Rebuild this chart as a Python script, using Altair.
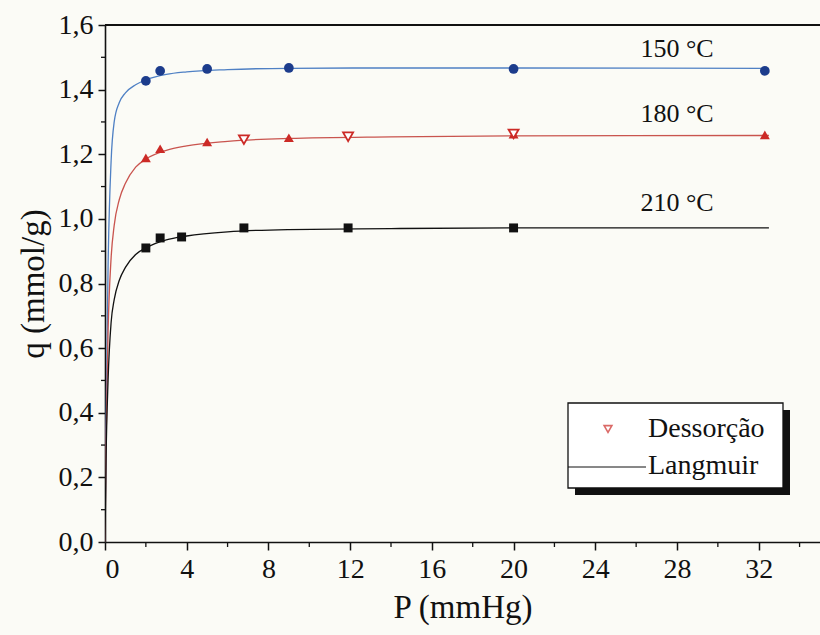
import altair as alt
import pandas as pd

# ---- data ----
# 150 °C adsorption (circles)
p150 = [2.0, 2.7, 5.0, 9.0, 20.0, 32.3]
q150 = [1.427, 1.458, 1.464, 1.467, 1.464, 1.458]
# 180 °C adsorption (filled triangles up)
p180 = [2.0, 2.7, 5.0, 9.0, 20.0, 32.3]
q180 = [1.189, 1.217, 1.238, 1.251, 1.262, 1.260]
# 180 °C desorption (open triangles down)
p180d = [6.8, 11.9, 20.0]
q180d = [1.245, 1.254, 1.263]
# 210 °C adsorption (squares)
p210 = [2.0, 2.7, 3.75, 6.8, 11.9, 20.0]
q210 = [0.910, 0.941, 0.944, 0.972, 0.972, 0.972]

# Langmuir curves
lp = [0.0, 0.05, 0.15, 0.3, 0.45, 0.7, 1.0, 1.5, 2.0, 3.0, 4.0, 6.0, 9.0, 14.0, 20.0, 32.5]
l150 = [0.0, 0.35, 0.85, 1.18, 1.30, 1.36, 1.39, 1.415, 1.43, 1.447, 1.455, 1.462, 1.466, 1.467, 1.467, 1.466]
l180 = [0.0, 0.30, 0.65, 0.88, 0.98, 1.06, 1.11, 1.16, 1.185, 1.212, 1.226, 1.240, 1.249, 1.254, 1.257, 1.258]
l210 = [0.0, 0.25, 0.50, 0.68, 0.75, 0.81, 0.85, 0.89, 0.91, 0.935, 0.947, 0.960, 0.967, 0.970, 0.972, 0.972]

# series labels
lab_text = ["150 °C", "180 °C", "210 °C"]
lab_x = [28.0, 28.0, 28.0]
lab_y = [1.525, 1.325, 1.05]

# ticks
x_major = [0, 4, 8, 12, 16, 20, 24, 28, 32]
x_minor = [2, 6, 10, 14, 18, 22, 26, 30, 34]
y_major = [0.0, 0.2, 0.4, 0.6, 0.8, 1.0, 1.2, 1.4, 1.6]
y_minor = [0.1, 0.3, 0.5, 0.7, 0.9, 1.1, 1.3, 1.5]

W, H = 715, 517
FONT = "Liberation Serif"
BLUE_PT, BLUE_LN = "#1c3c8c", "#4f80c4"
RED_PT, RED_LN = "#cc2a26", "#c9544e"
BLACK = "#111111"

def X():
    return alt.X("P:Q", scale=alt.Scale(domain=[0, 35], nice=False, zero=False),
                 axis=alt.Axis(values=x_major, title="P (mmHg)", format="d",
                               tickSize=8, labelPadding=5, titlePadding=8))

def Y():
    return alt.Y("q:Q", scale=alt.Scale(domain=[0, 1.6], nice=False),
                 axis=alt.Axis(values=y_major, title="q (mmol/g)",
                               labelExpr="replace(format(datum.value, '.1f'), '.', ',')",
                               tickSize=7, labelPadding=5, titlePadding=8))

def df(x, y):
    return pd.DataFrame({"P": x, "q": y})

lines = []
for ys, col in [(l150, BLUE_LN), (l180, RED_LN), (l210, BLACK)]:
    lines.append(alt.Chart(df(lp, ys)).mark_line(color=col, strokeWidth=1.3,
                                                 interpolate="monotone", clip=True)
                 .encode(x=X(), y=Y()))

pts150 = alt.Chart(df(p150, q150)).mark_point(shape="circle", filled=True, size=95,
                                              color=BLUE_PT, opacity=1).encode(x=X(), y=Y())
pts180 = alt.Chart(df(p180, q180)).mark_point(shape="triangle-up", filled=True, size=100,
                                              color=RED_PT, opacity=1).encode(x=X(), y=Y())
pts180d = alt.Chart(df(p180d, q180d)).mark_point(shape="triangle-down", filled=False, size=100,
                                                 color=RED_PT, strokeWidth=1.8, opacity=1,
                                                 fill="#ffffff", fillOpacity=1).encode(x=X(), y=Y())
pts210 = alt.Chart(df(p210, q210)).mark_point(shape="square", filled=True, size=80,
                                              color=BLACK, opacity=1).encode(x=X(), y=Y())

labels = alt.Chart(pd.DataFrame({"P": lab_x, "q": lab_y, "t": lab_text})).mark_text(
    font=FONT, fontSize=26, color=BLACK, align="center", baseline="middle"
).encode(x=X(), y=Y(), text="t:N")

# minor ticks
ymin = alt.Chart(pd.DataFrame({"q": y_minor})).mark_rule(color=BLACK, strokeWidth=1.3).encode(
    y=Y(), x=alt.value(-4), x2=alt.value(0))
xmin = alt.Chart(pd.DataFrame({"P": x_minor})).mark_rule(color=BLACK, strokeWidth=1.3).encode(
    x=X(), y=alt.value(H), y2=alt.value(H + 5))

one = pd.DataFrame({"a": [0]})
top = alt.Chart(one).mark_rule(color=BLACK, strokeWidth=2).encode(
    x=alt.value(0), x2=alt.value(W), y=alt.value(0))

# legend box with shadow
shadow = alt.Chart(one).mark_rect(color=BLACK).encode(
    x=alt.value(470), x2=alt.value(685), y=alt.value(385), y2=alt.value(470))
box = alt.Chart(one).mark_rect(fill="#ffffff", stroke=BLACK, strokeWidth=1.3).encode(
    x=alt.value(463), x2=alt.value(678), y=alt.value(378), y2=alt.value(463))
leg_tri = alt.Chart(one).mark_point(shape="triangle-down", size=60, filled=False,
                                    color=RED_PT, strokeWidth=1.6).encode(
    x=alt.value(503), y=alt.value(404))
leg_line = alt.Chart(one).mark_rule(color=BLACK, strokeWidth=1).encode(
    x=alt.value(463), x2=alt.value(541), y=alt.value(442))
leg_t1 = alt.Chart(pd.DataFrame({"t": ["Dessorção"]})).mark_text(
    font=FONT, fontSize=28, color=BLACK, align="left", baseline="middle").encode(
    x=alt.value(543), y=alt.value(404), text="t:N")
leg_t2 = alt.Chart(pd.DataFrame({"t": ["Langmuir"]})).mark_text(
    font=FONT, fontSize=28, color=BLACK, align="left", baseline="middle").encode(
    x=alt.value(543), y=alt.value(441), text="t:N")

chart = alt.layer(
    *lines, pts150, pts180, pts180d, pts210, labels, ymin, xmin, top,
    shadow, box, leg_tri, leg_line, leg_t1, leg_t2
).properties(
    width=W, height=H,
    padding={"left": 105, "top": 25, "right": 0, "bottom": 93},
    autosize=alt.AutoSizeParams(type="none"),
    background="#fbfbf6",
).configure_view(stroke=None).configure_axis(
    grid=False, domainColor=BLACK, domainWidth=1.6, tickColor=BLACK, tickWidth=1.5,
    labelFont=FONT, labelFontSize=28, labelColor=BLACK,
    titleFont=FONT, titleFontSize=33, titleColor=BLACK, titleFontWeight="normal",
)

chart.save("out.html", embed_options={"renderer": "svg", "actions": False})
